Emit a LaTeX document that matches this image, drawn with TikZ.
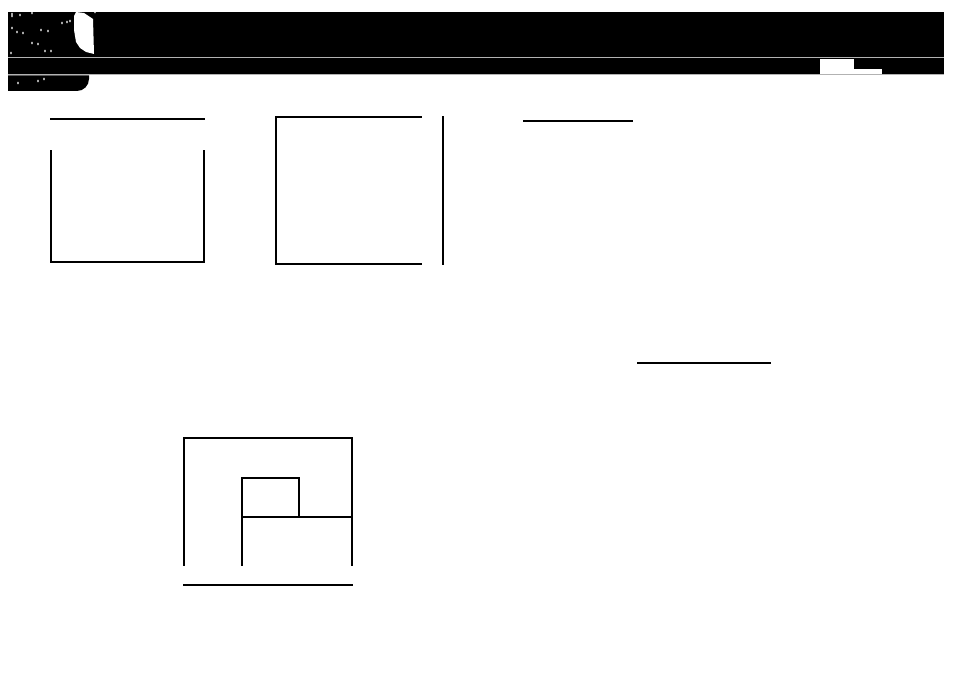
\documentclass[tikz,border=0pt]{standalone}
\usepackage{tikz}
\usetikzlibrary{calc,positioning}

\begin{document}
\begin{tikzpicture}[x=1pt, y=-1pt, FrameLine/.style={draw, line width=1.5pt, line cap=rect}, Speck/.style={fill=white, draw=none}, SepLine/.style={draw=gray!60, line width=1pt}]
		\useasboundingbox (0,0) rectangle (953,698);
		% header bar
		\fill[black] (8,12) rectangle (944,74);
		\draw[SepLine] (8,57.5) -- (944,57.5);
		\fill[white] (820,59) rectangle (854,74);
		\fill[white] (854,69) rectangle (882,74);
		\fill[black] (8,75.5) -- (89,75.5) -- (89,79) arc[start angle=0, end angle=90, radius=12] -- (8,91) -- cycle;
		\draw[SepLine] (8,74.5) -- (944,74.5);
		% specks on the header
		\fill[white] (76,12) -- (84,13) -- (93,19) -- (94,54) -- (86,52) -- (80,48) -- (76,42) -- (74,30) -- (74,16) -- cycle;
		\foreach \px/\py in {12/14, 12/16, 20/15, 32/13, 12/28, 17/32, 23/33, 41/30, 48/31, 62/23, 67/22, 70/21, 32/43, 38/44, 45/51, 51/51, 11/53, 95/12, 18/83, 38/81, 44/79}
			\fill[Speck] (\px,\py) ellipse (0.9 and 1.4);
		% box at top left
		\draw[FrameLine] (51,119) -- (204,119);
		\draw[FrameLine] (51,151) -- (51,262) -- (204,262) -- (204,151);
		% box at top middle
		\draw[FrameLine] (421,117) -- (276,117) -- (276,264) -- (421,264);
		\draw[FrameLine] (443,117) -- (443,264);
		% lone rules
		\draw[FrameLine] (524,121) -- (632,121);
		\draw[FrameLine] (638,363) -- (770,363);
		% box at bottom
		\draw[FrameLine] (184,565) -- (184,438) -- (352,438) -- (352,565);
		\draw[FrameLine] (242,565) -- (242,478) -- (299,478) -- (299,517);
		\draw[FrameLine] (242,517) -- (352,517);
		\draw[FrameLine] (184,585) -- (352,585);
	\end{tikzpicture}
\end{document}
